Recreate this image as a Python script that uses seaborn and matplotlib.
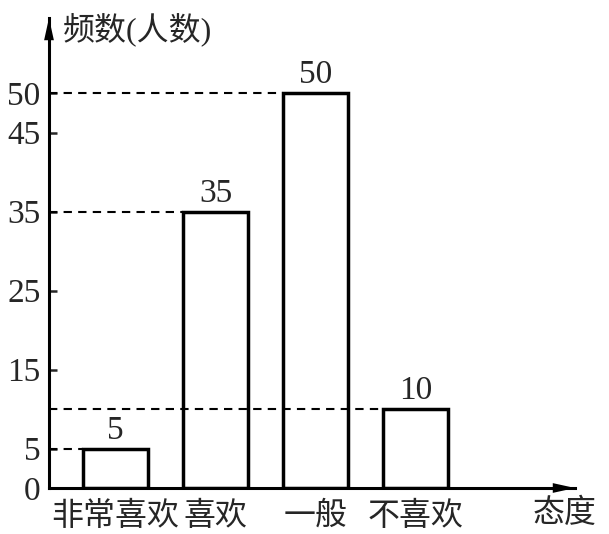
import numpy as np
import pandas as pd
import matplotlib
matplotlib.use('Agg')
import matplotlib.pyplot as plt
import seaborn as sns

sns.set_style('white')
plt.rcParams['font.family'] = ['Liberation Serif', 'Noto Sans CJK SC', 'DejaVu Sans']
plt.rcParams['font.weight'] = 'medium'

# data
categories = ['非常喜欢', '喜欢', '一般', '不喜欢']
counts = [5, 35, 50, 10]
yticks = [0, 5, 15, 25, 35, 45, 50]
ylabel = '频数(人数)'
xlabel = '态度'

df = pd.DataFrame({'态度': categories, '人数': counts})

W, H = 609, 534
fig = plt.figure(figsize=(W / 100, H / 100), dpi=100)
# axes placed in pixels: y-axis at x=49, x-axis at y=488, arrow tips at x=575 / y=18
ax = fig.add_axes([49 / W, (H - 488) / H, (575 - 49) / W, (488 - 18) / H])

bw = 0.65
sns.barplot(data=df, x='态度', y='人数', ax=ax, color='white', edgecolor='black',
            linewidth=2.5, width=bw, order=categories)

ax.set_xlim(-0.665, 4.595)
ax.set_ylim(0, 59.5)

# dashed guide lines from the y-axis to each bar
for i, v in enumerate(counts):
    ax.hlines(v, -0.665, i - bw / 2, colors='black', linewidth=1.5,
              linestyles=(0, (4, 3)), zorder=3)

ax.bar_label(ax.containers[0], padding=2, fontsize=24)

sns.despine(ax=ax)
for s in ['left', 'bottom']:
    ax.spines[s].set_linewidth(2.2)
    ax.spines[s].set_color('black')

ax.set_yticks(yticks)
ax.tick_params(axis='y', direction='in', length=6, width=1.8, labelsize=24, pad=6, left=True)
ax.tick_params(axis='x', length=0, labelsize=23, pad=10)
ax.set_xlabel('')
ax.set_ylabel('')

# arrows
arr = dict(arrowstyle='-|>,head_length=1.0,head_width=0.22', color='black', lw=0,
           mutation_scale=16, shrinkA=0, shrinkB=0)
ax.annotate('', xy=(1.0, 0), xytext=(0.95, 0), xycoords='axes fraction',
            arrowprops=arr, annotation_clip=False)
ax.annotate('', xy=(0, 1.0), xytext=(0, 0.95), xycoords='axes fraction',
            arrowprops=arr, annotation_clip=False)

fig.text(63 / W, 1 - 30 / H, ylabel, fontsize=23, ha='left', va='center')
fig.text(565 / W, 1 - 514 / H, xlabel, fontsize=23, ha='center', va='center')

fig.savefig('out.png', dpi=100)
